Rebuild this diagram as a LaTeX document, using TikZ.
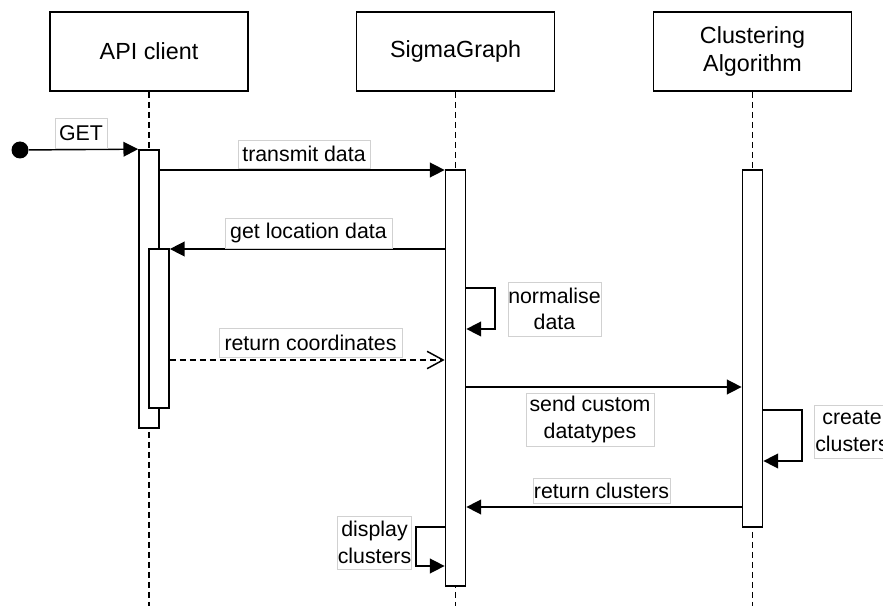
\documentclass[tikz,border=0pt]{standalone}
\usepackage{fontspec}
\setmainfont{Liberation Sans}
\usetikzlibrary{arrows.meta}
\newcommand\pxu{0.75pt}
\begin{document}
\begin{tikzpicture}[x=0.75pt,y=-0.75pt,
  actor/.style={draw, line width=1.3pt, minimum width=198*\pxu, minimum height=79*\pxu, inner sep=0pt, font=\fontsize{17.5}{21.5}\selectfont, align=center},
  bar/.style={draw, fill=white, line width=1.3pt, minimum width=20*\pxu, inner sep=0pt},
  life/.style={line width=1.3pt, dash pattern=on 4.5pt off 3pt},
  msg/.style={line width=1.1pt, -{Triangle[length=11pt,width=11pt]}},
  ret/.style={line width=1.1pt, dash pattern=on 4.5pt off 3pt, -{Straight Barb[length=12pt,width=13pt,line width=1.1pt]}},
  lbl/.style={draw=black!18, line width=0.5pt, fill=white, inner sep=0pt, font=\fontsize{16}{20}\selectfont, align=center}]
\useasboundingbox (0,0) rectangle (883,606);
% actors
\node[actor] (api) at (149,51.5) {API client};
\node[actor] (sig) at (455.5,51.5) {SigmaGraph};
\node[actor] (clu) at (752.5,51.5) {Clustering\\Algorithm};
\coordinate (bot) at (0,606);
% lifelines
\draw[life] (api.south) -- (api.south |- bot);
\draw[life] (sig.south) -- (sig.south |- bot);
\draw[life] (clu.south) -- (clu.south |- bot);
% activation bars
\node[bar, minimum height=278*\pxu] (apiBar) at (149,289) {};
\node[bar, minimum height=159*\pxu] (apiBar2) at (159,328.5) {};
\node[bar, minimum height=416*\pxu] (sigBar) at (455.5,378) {};
\node[bar, minimum height=357*\pxu] (cluBar) at (752.5,348.5) {};
% message rows
\coordinate (m1) at (0,170);
\coordinate (m2) at (0,249);
\coordinate (m3) at (0,360);
\coordinate (m4) at (0,387);
\coordinate (m5) at (0,507);
\coordinate (n1) at (495,288);
\coordinate (n2) at (495,329);
\coordinate (c1) at (802,410);
\coordinate (c2) at (802,461);
\coordinate (d1) at (416,527);
\coordinate (d2) at (416,566);
% start dot
\node[circle, fill=black, minimum size=17*\pxu, inner sep=0pt] (start) at (20,150) {};
% messages
\draw[msg] (start) -- (apiBar.north west);
\draw[msg] (apiBar.east |- m1) -- (sigBar.west |- m1);
\draw[msg] (sigBar.west |- m2) -- (apiBar2.east |- m2);
\draw[msg] (sigBar.east |- n1) -- (n1) -- (n2) -- (sigBar.east |- n2);
\draw[ret] (apiBar2.east |- m3) -- (sigBar.west |- m3);
\draw[msg] (sigBar.east |- m4) -- (cluBar.west |- m4);
\draw[msg] (cluBar.east |- c1) -- (c1) -- (c2) -- (cluBar.east |- c2);
\draw[msg] (cluBar.west |- m5) -- (sigBar.east |- m5);
\draw[msg] (sigBar.west |- d1) -- (d1) -- (d2) -- (sigBar.west |- d2);
% labels
\node[lbl, minimum width=52*\pxu, minimum height=30*\pxu] (lget) at (81,133) {GET};
\node[lbl, minimum width=132*\pxu, minimum height=28*\pxu] (ltr) at (304,154) {transmit data};
\node[lbl, minimum width=167*\pxu, minimum height=30*\pxu] (lloc) at (308.5,233) {get location data};
\node[lbl, minimum width=93*\pxu, minimum height=54*\pxu] (lnorm) at (554.5,309) {normalise\\data};
\node[lbl, minimum width=183*\pxu, minimum height=29*\pxu] (lret) at (310.5,342.5) {return coordinates};
\node[lbl, minimum width=128*\pxu, minimum height=53*\pxu] (lsend) at (590,419.5) {send custom\\datatypes};
\node[lbl, minimum width=76*\pxu, minimum height=53*\pxu] (lcre) at (852,431.5) {create\\clusters};
\node[lbl, minimum width=137*\pxu, minimum height=25*\pxu] (lrc) at (601.5,490.5) {return clusters};
\node[lbl, minimum width=73*\pxu, minimum height=53*\pxu] (ldisp) at (374.5,542.5) {display\\clusters};
\end{tikzpicture}
\end{document}
